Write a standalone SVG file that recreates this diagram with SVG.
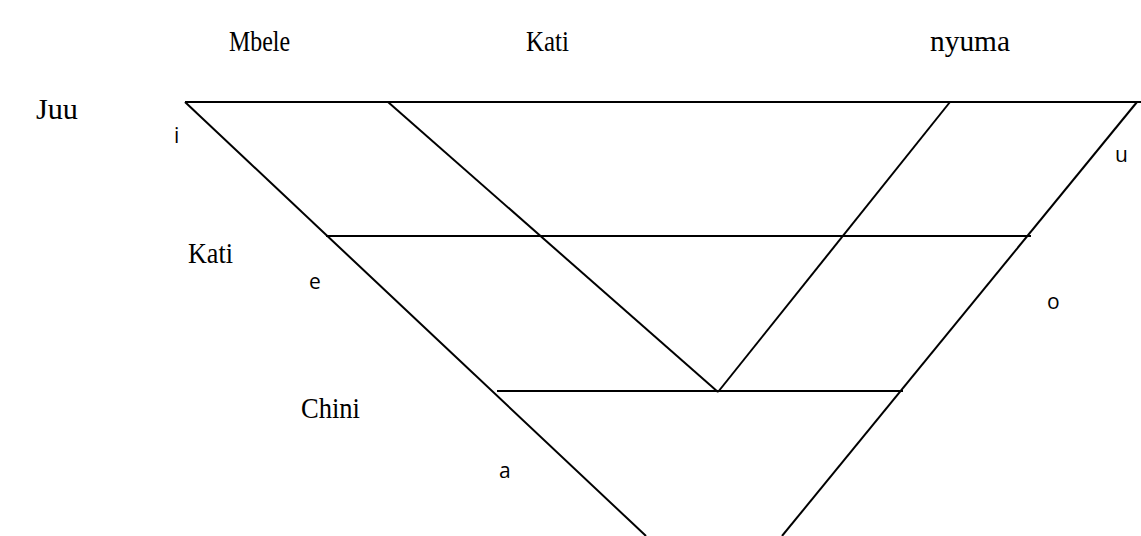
<svg xmlns="http://www.w3.org/2000/svg" width="1141" height="536" viewBox="0 0 1141 536">
<style>
.ln{stroke:#000;stroke-width:2;fill:none}
.sans{font-family:"Open Sans","Liberation Sans",sans-serif;font-size:21px;fill:#000}
</style>
<rect width="1141" height="536" fill="#fff"/>
<g id="connectors">
<line class="ln" x1="185" y1="102" x2="1141" y2="102"/>
<line class="ln" x1="185" y1="102" x2="646" y2="536"/>
<line class="ln" x1="1137" y1="102" x2="782" y2="536"/>
<line class="ln" x1="388" y1="102" x2="718" y2="392"/>
<line class="ln" x1="950" y1="102" x2="718" y2="392"/>
<line class="ln" x1="326" y1="236" x2="1031" y2="236"/>
<line class="ln" x1="497" y1="391" x2="903" y2="391"/>
</g>
<g font-family="Liberation Serif, Times New Roman, serif" font-size="30" fill="#000">
<g id="label-mbele"><text x="229" y="51" textLength="61" lengthAdjust="spacingAndGlyphs">Mbele</text></g>
<g id="label-kati-top"><text x="526" y="51" textLength="43" lengthAdjust="spacingAndGlyphs">Kati</text></g>
<g id="label-nyuma"><text x="930" y="51" textLength="80" lengthAdjust="spacingAndGlyphs">nyuma</text></g>
<g id="label-juu"><text x="36" y="119" textLength="42" lengthAdjust="spacingAndGlyphs">Juu</text></g>
<g id="label-kati-left"><text x="188" y="263" textLength="45" lengthAdjust="spacingAndGlyphs">Kati</text></g>
<g id="label-chini"><text x="301" y="418" textLength="59" lengthAdjust="spacingAndGlyphs">Chini</text></g>
</g>
<g id="vowel-i"><text class="sans" x="174" y="143">i</text></g>
<g id="vowel-e"><text class="sans" x="309" y="289">e</text></g>
<g id="vowel-a"><text class="sans" x="499" y="478">a</text></g>
<g id="vowel-u"><text class="sans" x="1115" y="162">u</text></g>
<g id="vowel-o"><text class="sans" x="1047" y="309">o</text></g>
</svg>
